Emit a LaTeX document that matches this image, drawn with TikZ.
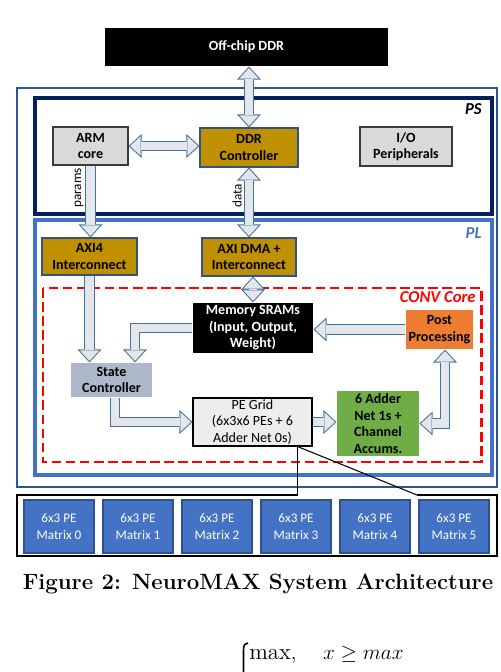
\documentclass[tikz,border=0pt]{standalone}
\usepackage{amsmath}
\usepackage{amssymb}
\usepackage{fontspec}
\usepackage{tikz}
\usetikzlibrary{arrows.meta}
\newfontfamily\boxfont{Carlito}
\definecolor{gold}{HTML}{BF9000}
\definecolor{goldbd}{HTML}{2F528F}
\definecolor{lgray}{HTML}{D9D9D9}
\definecolor{graybd}{HTML}{3A3A3A}
\definecolor{psnavy}{HTML}{002060}
\definecolor{plblue}{HTML}{4472C4}
\definecolor{outline}{HTML}{2F5597}
\definecolor{flowline}{HTML}{41719C}
\definecolor{flowfill}{HTML}{E3E6EB}
\definecolor{stategray}{HTML}{ADB9CA}
\definecolor{postorange}{HTML}{ED7D31}
\definecolor{addgreen}{HTML}{70AD47}
\definecolor{pegray}{HTML}{EDEDED}
\definecolor{matline}{HTML}{2F528F}
\definecolor{convred}{HTML}{FF0000}
\newcommand\flow[2]{\draw[flowout,#1] #2; \draw[flowin,#1] #2;}

\begin{document}
\begin{tikzpicture}[x=0.02cm,y=-0.02cm,
  box/.style={align=center,inner sep=0pt,line width=0.6pt,font=\boxfont\bfseries\fontsize{8}{9.4}\selectfont},
  pemat/.style={draw=matline,fill=plblue,text=white,line width=0.6pt,minimum width=1.4cm,minimum height=1.06cm,align=center,inner sep=0pt,font=\boxfont\fontsize{7.5}{9.4}\selectfont},
  flowout/.style={draw=flowline,line width=6.2pt,>={Triangle[width=13.6pt,length=7.4pt,line width=0pt]},dbl/.style={}},
  flowin/.style={draw=flowfill,line width=5pt,shorten >=0.84pt,>={Triangle[width=11pt,length=6pt,line width=0pt]},dbl/.style={shorten <=0.84pt}},
  tag/.style={font=\boxfont\bfseries\itshape\fontsize{9.5}{11}\selectfont,anchor=east,inner sep=0pt},
  side/.style={rotate=90,inner sep=0pt,font=\boxfont\fontsize{7.5}{9}\selectfont}]
\useasboundingbox (0,0) rectangle (500,672);

\draw[outline,line width=0.8pt] (17,88) rectangle (497,487);
\draw[psnavy,line width=2.2pt] (35,98) rectangle (492,214);
\draw[plblue,line width=2.2pt] (35,220) rectangle (492,475);
\draw[convred,line width=1.7pt,dash pattern=on 5.5pt off 2.5pt] (43,288) rectangle (481,462);
\node[tag] (pstag) at (482,109) {PS};
\node[tag,text=plblue] (pltag) at (482,233) {PL};
\node[tag,text=convred] (convtag) at (476,297) {CONV Core};

\node[box,fill=black,text=white,minimum width=5.66cm,minimum height=0.76cm] (offchip) at (246.5,47) {Off-chip DDR};
\node[box,draw=graybd,fill=lgray,minimum width=1.5cm,minimum height=0.76cm] (arm) at (90.5,146) {ARM\\core};
\node[box,draw=goldbd,fill=gold,minimum width=1.96cm,minimum height=0.78cm] (ddrc) at (249,147.5) {DDR\\Controller};
\node[box,draw=graybd,fill=lgray,minimum width=1.84cm,minimum height=0.78cm] (io) at (406,146.5) {I/O\\Peripherals};
\node[box,draw=goldbd,fill=gold,minimum width=1.9cm,minimum height=0.74cm] (axi) at (89.5,256.5) {AXI4\\Interconnect};
\node[box,draw=goldbd,fill=gold,minimum width=1.88cm,minimum height=0.76cm] (dma) at (249,257) {AXI DMA +\\Interconnect};
\node[box,fill=black,text=white,minimum width=2.4cm,minimum height=1cm] (mem) at (253,328) {Memory SRAMs\\(Input, Output,\\Weight)};
\node[box,fill=postorange,minimum width=1.34cm,minimum height=0.78cm] (post) at (439.5,329.5) {Post\\Processing};
\node[box,fill=stategray,minimum width=1.62cm,minimum height=0.68cm] (state) at (111.5,380) {State\\Controller};
\node[box,draw=black,fill=pegray,font=\boxfont\fontsize{8}{9.4}\selectfont,minimum width=2.38cm,minimum height=0.96cm] (pe) at (252.5,422) {PE Grid\\(6x3x6 PEs + 6\\Adder Net 0s)};
\node[box,fill=addgreen,minimum width=1.64cm,minimum height=1.3cm] (adder) at (378,423.5) {6 Adder\\Net 1s +\\Channel\\Accums.};

\flow{<->,dbl}{(ddrc.north) -- (ddrc.north |- offchip.south)}
\flow{<->,dbl}{(arm.east) -- (arm.east -| ddrc.west)}
\flow{->}{(arm.south) -- (arm.south |- axi.north)}
\flow{<->,dbl}{(ddrc.south) -- (ddrc.south |- dma.north)}
\flow{<->,dbl}{(mem.north) -- (mem.north |- dma.south)}
\flow{->}{(post.west) -- (post.west -| mem.east)}
\flow{->}{(axi.south) -- (axi.south |- state.north)}
\flow{->}{(mem.west) -| ([xshift=0.47cm]state.north)}
\flow{->}{([xshift=0.07cm]state.south) |- (pe.west)}
\flow{->}{(pe.east) -- (pe.east -| adder.west)}
\flow{<->,dbl}{(adder.east) -| ([xshift=0.11cm]post.south)}
\node[side] (paramstag) at (79,188) {params};
\node[side] (datatag) at (237,196) {data};

\coordinate (callout) at ([xshift=-0.3cm]pe.south east);
\coordinate (fleft) at (callout |- 0,495);
\coordinate (fright) at (417,495);
\draw[line width=1.3pt] (fleft) -- (17,495) -- (17,556) -- (497,556) -- (497,495) -- (fright);
\draw[line width=0.6pt] (callout) -- (fleft);
\draw[line width=0.6pt] (callout) -- (fright);
\foreach \i in {0,...,5}
  \node[pemat] (mat\i) at (59+79*\i,526.5) {6x3 PE\\Matrix \i};

\node[font=\bfseries\fontsize{12.6}{14}\selectfont] (caption) at (258,584) {Figure 2: NeuroMAX System Architecture};
\draw[line width=0.9pt] (248,643) .. controls (245,643) and (243.5,645) .. (243.5,650) -- (243.5,672);
\node[anchor=west,inner sep=0pt,font=\fontsize{13}{15}\selectfont] (eqn) at (249,655) {$\max,\quad x \geq max$};
\end{tikzpicture}
\end{document}
